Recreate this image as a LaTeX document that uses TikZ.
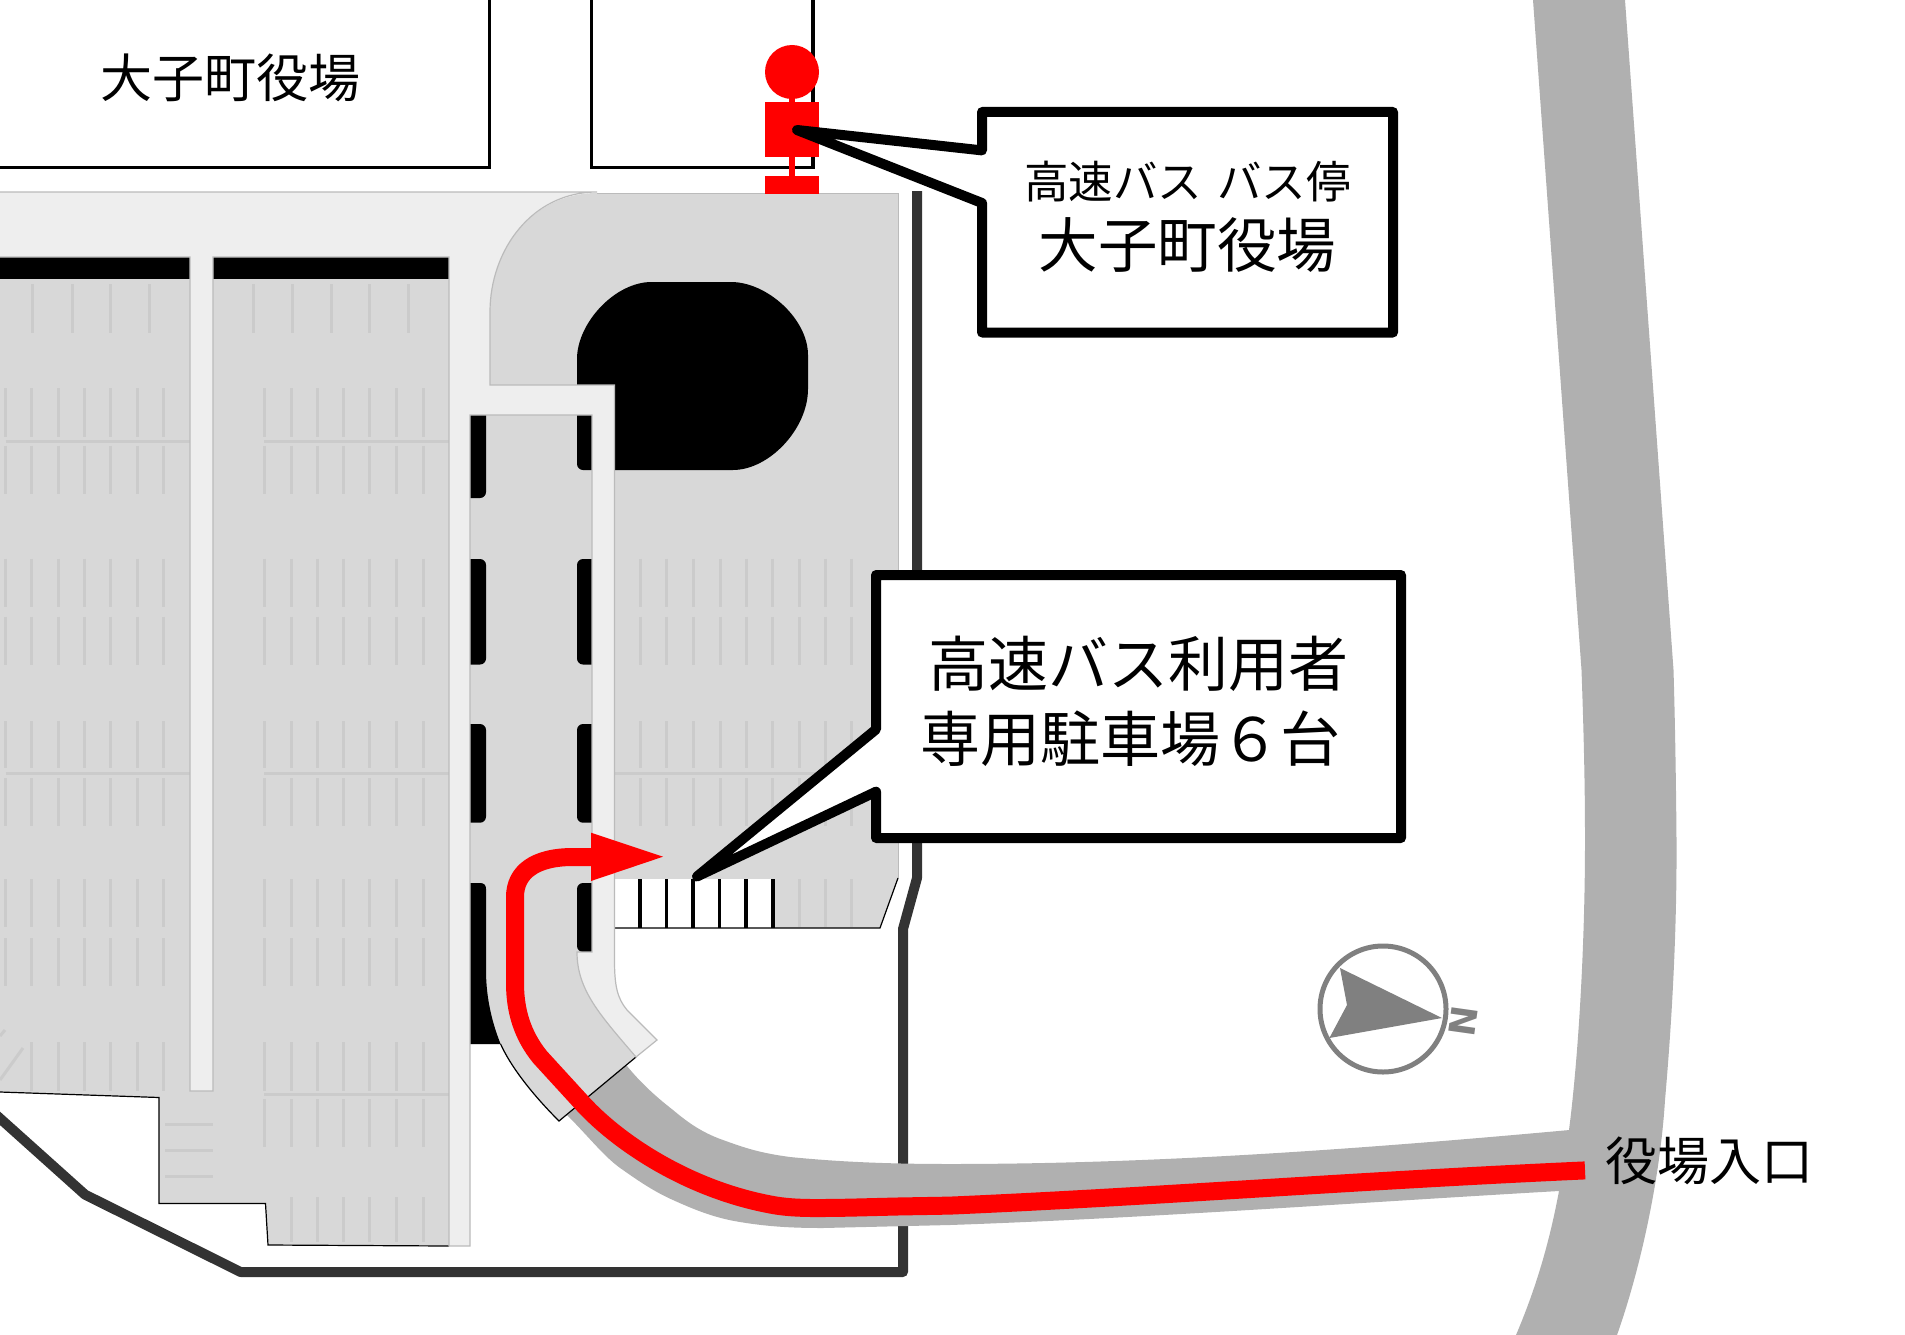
\documentclass[tikz,border=0pt]{standalone}
\usepackage{fontspec}
\newfontfamily\jp{Noto Sans CJK JP}
\definecolor{lot}{HTML}{D8D8D8}
\definecolor{lane}{HTML}{EEEEEE}
\definecolor{edgegray}{HTML}{BBBBBB}
\definecolor{roadgray}{HTML}{B0B0B0}
\definecolor{wallgray}{HTML}{333333}
\definecolor{slotgray}{HTML}{CBCBCB}
\definecolor{compassgray}{HTML}{808080}
\definecolor{routered}{HTML}{FF0000}
\tikzset{
  building/.style={draw=black,line width=3.5pt,miter limit=10},
  wall/.style={draw=wallgray,line width=10pt,line join=round},
  slot/.style={draw=slotgray,line width=3pt},
  thinedge/.style={draw=black,line width=1.2pt},
  callout/.style={draw=black,fill=white,line width=10pt,line join=round},
  label/.style={inner sep=0pt,outer sep=0pt,align=center,font=\jp},
}
\begin{document}
\begin{tikzpicture}[x=1pt,y=-1pt]
\useasboundingbox (0,0) rectangle (1905,1335);
\fill[white] (0,0) rectangle (1905,1335);
% buildings
\draw[building] (0,167.5) -- (489.5,167.5) -- (489.5,-5);
\draw[building] (591.5,-5) -- (591.5,167.5) -- (813,167.5) -- (813,-5);
\node[label] (hall) at (230.5,78) {\fontsize{52}{52}\selectfont 大子町役場};
% site wall
\draw[wall] (917,191) -- (917,878) -- (903,929) -- (903,1272) -- (240.6,1272) -- (85,1194.6) -- (-6,1113);
% roads
\fill[roadgray] (1533,0) -- (1581.5,670) .. controls (1584,740) and (1585,790) .. (1585,840)
  .. controls (1585,950) and (1578,1060) .. (1569,1130) -- (1559,1191)
  .. controls (1548,1250) and (1533,1295) .. (1516,1335) -- (1617,1335)
  .. controls (1640,1270) and (1660,1180) .. (1665,1100)
  .. controls (1672,1020) and (1677,930) .. (1676.5,840)
  .. controls (1676,780) and (1675,720) .. (1673.5,670) -- (1625,0) -- cycle;
\fill[roadgray] (1600,1128) -- (1569.4,1130) .. controls (1350,1150) and (1150,1164) .. (950,1164)
  .. controls (890,1164) and (840,1162) .. (790,1157)
  .. controls (760,1153) and (745,1148) .. (723,1140)
  .. controls (700,1132) and (685,1120) .. (673,1110)
  .. controls (655,1096) and (640,1082) .. (627,1066)
  -- (620,1060) -- (567,1115)
  .. controls (590,1138) and (605,1158) .. (623,1170)
  .. controls (640,1182) and (655,1192) .. (673,1200)
  .. controls (695,1210) and (715,1218) .. (740,1222)
  .. controls (770,1227) and (795,1228) .. (823,1228) -- (950,1225)
  .. controls (1150,1218) and (1350,1203) .. (1559,1191) -- (1600,1191) -- cycle;
% lots
\fill[lot] (0,257) -- (449,257) -- (449,1246) -- (268,1245) -- (265.5,1203.5) -- (159,1203.5) -- (159,1097.5) -- (0,1092) -- cycle;
\fill[lot] (490,385) -- (490,312) .. controls (490,250) and (532,193) .. (597,193)
  -- (898,193) -- (898,878) -- (880,928) -- (605,928) -- (605,1010) -- (636,1057) -- (559,1121)
  .. controls (530,1092) and (510,1065) .. (500.6,1044) -- (470,1044) -- (470,385) -- cycle;
\draw[thinedge] (0,1092) -- (159,1097.5) -- (159,1203.5) -- (265.5,1203.5) -- (268,1245) -- (449,1246);
\draw[thinedge] (500.6,1044) .. controls (510,1065) and (530,1092) .. (559,1121) -- (636,1057);
\draw[edgegray,line width=1pt] (597,193) -- (898,193) -- (898,878);
% white reserved slots
\fill[white] (614.5,879) rectangle (774,927.5);
\foreach \x in {640,666.5,693,719.7,746,773}
  \draw[black,line width=3.5pt] (\x,879) -- (\x,928);
\draw[thinedge] (614.5,928) -- (880,928) -- (898,878);
% parking lines, left and middle blocks
\foreach \x in {32,72,110,149,253,292,331,369,408} \draw[slot] (\x,284) -- (\x,333);
\foreach \x in {5.7,31.7,58,84,110.7,137,163,264,291,317,343,369,396,423}
  \foreach \a/\b in {388/437,445.7/494,558.5/607,616.7/664.5,721/768,778/826,879/927,938/986}
    \draw[slot] (\x,\a) -- (\x,\b);
\foreach \x in {31.5,58,84,110,137,163.6,264,291,317,343,369,396,423} \draw[slot] (\x,1042) -- (\x,1091);
\foreach \x in {264,291,317,343,369,396,423} \draw[slot] (\x,1099) -- (\x,1147);
\foreach \x in {291,317,343,369,396,423} \draw[slot] (\x,1197) -- (\x,1242);
\foreach \y in {441.7,773} { \draw[slot] (5.7,\y) -- (190,\y); \draw[slot] (264,\y) -- (449,\y); }
\draw[slot] (264,1094) -- (449,1094);
\foreach \y in {1124,1150,1176} \draw[slot] (165,\y) -- (213,\y);
\draw[slot] (23,1048) -- (0,1080);
\draw[slot] (5,1030) -- (0,1036);
% parking lines, right block
\foreach \x in {640.6,666.7,693,720,746.7,772.7,799,825.5,851.5}
  \foreach \a/\b in {558.5/607,616.7/664.5,721/768,778/826}
    \draw[slot] (\x,\a) -- (\x,\b);
\foreach \x in {799,825.5,851.5} \draw[slot] (\x,879) -- (\x,927);
\draw[slot] (614.5,773) -- (880,773);
% black islands
\fill[black] (0,257) rectangle (190,278.6);
\fill[black] (213,257) rectangle (449,278.6);
\fill[black] (577,385) -- (577,359) .. controls (577,323) and (615,282) .. (651.5,282)
  -- (731,282) .. controls (767,282) and (808,319) .. (808,355)
  -- (808,389) .. controls (808,429) and (769,470) .. (733,470) -- (600,470) -- cycle;
\fill[black,rounded corners=6pt] (577,370) rectangle (600,470);
\foreach \a/\b in {400/498,559/664.5,724/822.7}
  \fill[black,rounded corners=6pt] (455,\a) rectangle (486,\b);
\foreach \a/\b in {559/664.5,724/822.7,883/952}
  \fill[black,rounded corners=6pt] (577,\a) rectangle (600,\b);
\fill[black] (470,889) -- (470,883) -- (480,883) .. controls (484,883) and (486,885) .. (486,889) -- (486,970)
  .. controls (486,1000) and (493,1025) .. (500.6,1044) -- (470,1044) -- cycle;
% lanes
\draw[draw=edgegray,line width=1.2pt,fill=lane] (0,192) -- (597,192) .. controls (532,192) and (490,250) .. (490,312)
  -- (490,385) -- (614.5,385) -- (614.5,960) .. controls (614.5,985) and (617,998) .. (627,1010)
  -- (657,1040) -- (636,1057) .. controls (600,1015) and (577,990) .. (577,952) -- (592,952) -- (592,415)
  -- (470,415) -- (470,1246) -- (449,1246) -- (449,257) -- (213,257) -- (213,1091) -- (190,1091) -- (190,257)
  -- (0,257);
% bus stop marker
\fill[routered] (792,72) circle (27);
\fill[routered] (765,102.5) rectangle (819,157);
\fill[routered] (789,95) rectangle (795,180);
\fill[routered] (765,176) rectangle (819,193.6);
% route
\draw[routered,line width=18pt,line join=round] (591,857) -- (573,857) .. controls (535,857) and (515,872) .. (515,897)
  -- (515,983) .. controls (515,1012) and (523,1036) .. (540,1057) -- (583,1104)
  .. controls (620,1144) and (690,1190) .. (773,1205)
  .. controls (795,1209) and (820,1208) .. (848,1207.7)
  -- (897,1206.5) -- (950,1205.6) .. controls (1150,1197) and (1350,1181) .. (1585,1170.4);
\fill[routered] (591,832.7) -- (663,856.7) -- (591,881) -- cycle;
% compass
\draw[compassgray,line width=5pt] (1383,1009) circle (63);
\fill[compassgray] (1340,968) -- (1442,1018) -- (1329.4,1038) -- (1347,1005) -- cycle;
\node[inner sep=0pt,rotate=-98,text=compassgray,font={\fontspec{DejaVu Sans Bold}\fontsize{36}{36}\selectfont}] (north) at (1463,1021) {N};
% road label
\node[label] (entrance) at (1709,1161) {\fontsize{52}{52}\selectfont 役場入口};
% callouts
\draw[callout] (982,112) -- (1393,112) -- (1393,332.5) -- (982,332.5) -- (982,203) -- (797,130) -- (982,150.4) -- cycle;
\node[label] (stoptitle) at (1187.5,182) {\fontsize{44.5}{44.5}\selectfont\spaceskip=15pt 高速バス バス停};
\node[label] (stopname) at (1187.5,245) {\fontsize{59.5}{59.5}\selectfont 大子町役場};
\draw[callout] (876,575) -- (1401,575) -- (1401,838) -- (876,838) -- (876,791.7) -- (697,876.5) -- (876,729.4) -- cycle;
\node[label] (lotline) at (1138,664) {\fontsize{60}{60}\selectfont 高速バス利用者};
\node[label] (lotlinetwo) at (1130,739) {\fontsize{60}{60}\selectfont 専用駐車場６台};
\end{tikzpicture}
\end{document}
